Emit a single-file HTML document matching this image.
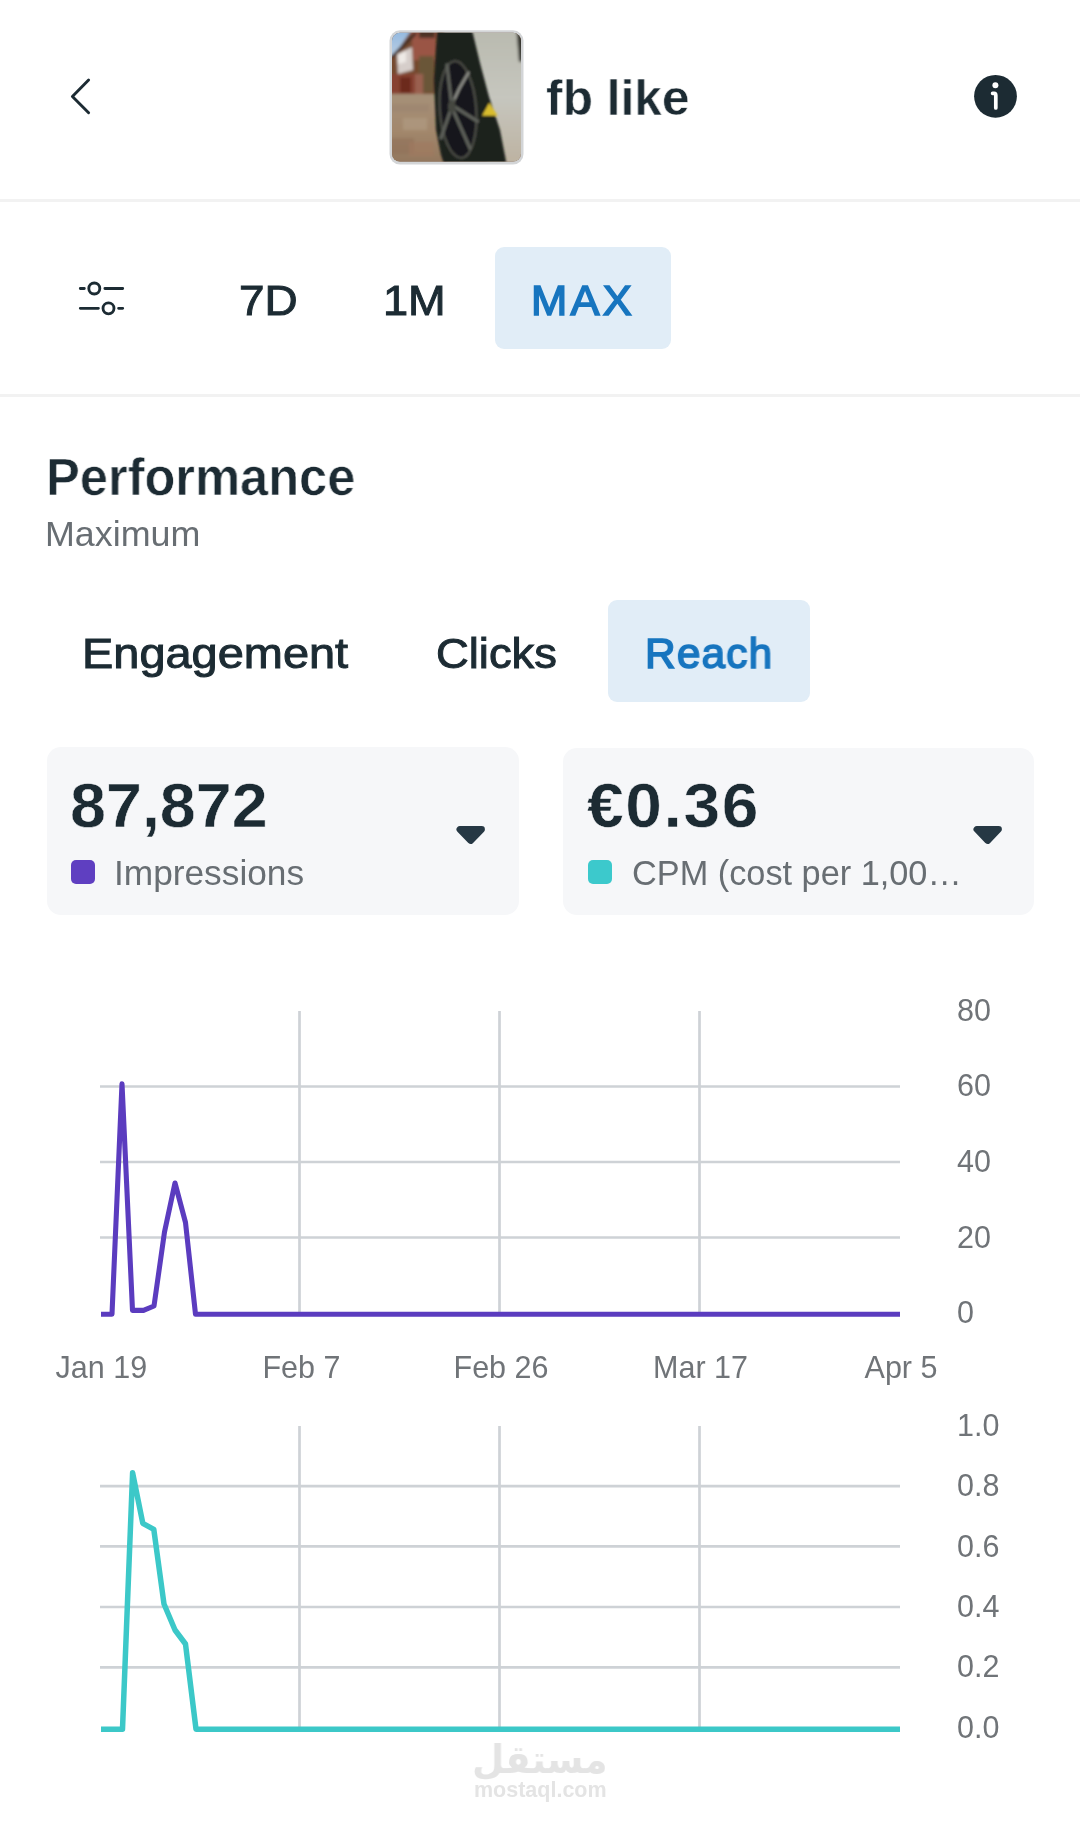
<!DOCTYPE html>
<html><head><meta charset="utf-8">
<style>
html,body{margin:0;padding:0;background:#fff;}
body{width:1080px;height:1840px;position:relative;overflow:hidden;font-family:"Liberation Sans",Arial,sans-serif;color:#1c2b33;}
.t{position:absolute;line-height:1;white-space:nowrap;transform-origin:0 0;will-change:transform;}
.b{font-weight:700;}
.sep{position:absolute;left:0;width:1080px;height:3px;background:#f2f2f2;}
.pill{position:absolute;background:#e1edf7;border-radius:9px;}
.card{position:absolute;background:#f6f7f9;border-radius:14px;}
.sq{position:absolute;width:24px;height:24px;border-radius:5px;}
.gray{color:#686e73;}
.semi{-webkit-text-stroke:1.6px currentColor;}
.med{-webkit-text-stroke:0.6px currentColor;}
.blue{color:#1775bf;}
svg{position:absolute;left:0;top:0;will-change:transform;}
</style></head>
<body>
<!-- header -->
<svg width="1080" height="200" viewBox="0 0 1080 200">
  <path d="M88.6 80 L72.4 96.4 L88.6 112.8" fill="none" stroke="#1c2b33" stroke-width="2.9" stroke-linecap="round" stroke-linejoin="round"/>
  <circle cx="995.5" cy="96.3" r="21.4" fill="#1c2b33"/>
  <circle cx="995.4" cy="85.2" r="3" fill="#fff"/>
  <path d="M992.6 93.3 H994.1 Q995.8 93.3 995.8 95.5 V108" fill="none" stroke="#fff" stroke-width="3.7" stroke-linecap="round" stroke-linejoin="round"/>
</svg>

<!-- thumbnail -->
<svg style="left:389px;top:30px;" width="135" height="135" viewBox="0 0 135 135">
  <defs>
    <clipPath id="clp"><rect x="3" y="2.8" width="129" height="128.8" rx="8"/></clipPath>
    <filter id="bl" x="-10%" y="-10%" width="120%" height="120%"><feGaussianBlur stdDeviation="1.8"/></filter>
    <filter id="bl2" x="-10%" y="-10%" width="120%" height="120%"><feGaussianBlur stdDeviation="1.1"/></filter>
    <linearGradient id="gnd" x1="0" y1="0" x2="0" y2="1">
      <stop offset="0" stop-color="#a59078"/><stop offset="0.45" stop-color="#a3886d"/><stop offset="1" stop-color="#8f735a"/>
    </linearGradient>
    <linearGradient id="car" x1="0" y1="0" x2="0" y2="1">
      <stop offset="0" stop-color="#b8b9ae"/><stop offset="0.5" stop-color="#c6c6be"/><stop offset="1" stop-color="#bcb09e"/>
    </linearGradient>
    <linearGradient id="sky" x1="0" y1="0" x2="0" y2="1">
      <stop offset="0" stop-color="#8ab4e0"/><stop offset="1" stop-color="#bccfe2"/>
    </linearGradient>
  </defs>
  <rect x="0.5" y="0.3" width="134" height="134.2" rx="10.5" fill="#d3d5d7"/>
  <g clip-path="url(#clp)">
    <rect x="0" y="0" width="135" height="135" fill="#7a5a45"/>
    <g filter="url(#bl)">
      <rect x="-5" y="-5" width="60" height="75" fill="#74482f"/>
      <path d="M-5 -5 H26 L6 24 L-5 28 Z" fill="url(#sky)"/>
      <path d="M22 -5 H47 V30 H24 Z" fill="#9a5444"/>
      <path d="M30 -5 H46 V8 H30 Z" fill="#4e3028"/>
      <path d="M30 26 H45 V62 H30 Z" fill="#6a5638"/>
      <path d="M8 24 L23 17 L24 40 L9 44 Z" fill="#d6ceca"/><path d="M9 25 L17 21 L17 32 L9 34 Z" fill="#eeeae6"/>
      <path d="M-5 44 H32 V64 H-5 Z" fill="#874230"/>
      <path d="M11 47 H22 V63 H11 Z" fill="#6c2a1a"/>
      <path d="M26 44 H34 V64 H26 Z" fill="#9a6050"/>
      <path d="M3 27 L27 3" stroke="#3e2c24" stroke-width="3" fill="none"/>
      <rect x="-5" y="64" width="62" height="76" fill="url(#gnd)"/>
      <rect x="14" y="88" width="24" height="12" fill="#b39c84" opacity="0.6"/>
      <rect x="-5" y="108" width="30" height="16" fill="#8e6e55" opacity="0.5"/><rect x="20" y="112" width="25" height="14" fill="#a27a60" opacity="0.6"/><rect x="0" y="74" width="40" height="8" fill="#9c8470" opacity="0.6"/>
      <path d="M75 -5 H140 V140 H100 Z" fill="url(#car)"/>
      <path d="M127 -5 H140 V32 H130 Z" fill="#34342f"/>
    </g>
    <g filter="url(#bl2)">
      <path d="M49 -5 L81 -5 L84 4 L91 33 L100 66.7 L111 100 L116.8 130 L118 140 L57 140 L52 125 L47 100 L45 50 L47 20 Z" fill="#1f211d"/>
      <ellipse cx="69" cy="79.5" rx="18.2" ry="48.5" transform="rotate(-4 69 79.5)" fill="#19191a" stroke="#464843" stroke-width="2.4"/>
      <path d="M79.3 42.5 L70.2 58.3 L62.7 75 M62.7 75 L88.5 91.2 M64 80 L81 118.3 M62.7 75 L58 35 M62.7 77 L52 108" stroke="#5c5e59" stroke-width="3.4" fill="none" stroke-linecap="round"/>
      <path d="M79.5 43 L70.5 58.5 L66 68" stroke="#8c8c87" stroke-width="2" fill="none" stroke-linecap="round"/>
      <ellipse cx="62.7" cy="76.5" rx="3.8" ry="6.5" fill="#444641"/>
      <path d="M100.2 72.8 L93 85.8 H108.8 Z" fill="#d8bc2e"/>
    </g>
  </g>
</svg>
<div class="t b" style="left:546.01px;top:73.27px;font-size:50px;-webkit-text-stroke:0.5px #fff;transform:scaleX(0.993);">fb like</div>
<div class="sep" style="top:199px;"></div>

<!-- range row -->
<svg width="1080" height="400" viewBox="0 0 1080 400">
  <g fill="none" stroke="#1c2b33" stroke-width="2.85" stroke-linecap="round">
    <path d="M80.3 288.5 H84.3 M104.9 288.5 H122.7 M80.3 308.3 H98.4 M118.6 308.3 H122.7"/>
    <circle cx="94.3" cy="288.5" r="5.5"/>
    <circle cx="108.5" cy="308.3" r="5.5"/>
  </g>
</svg>
<div class="t" style="left:238.88px;top:278.85px;font-size:43.3px;-webkit-text-stroke:1.0px currentColor;transform:scaleX(1.060);">7D</div>
<div class="t" style="left:382.57px;top:278.75px;font-size:43.3px;-webkit-text-stroke:1.0px currentColor;transform:scaleX(1.043);">1M</div>
<div class="pill" style="left:495.3px;top:247px;width:175.5px;height:101.7px;"></div>
<div class="t blue" style="left:531.36px;top:279.20px;font-size:43px;letter-spacing:3.2px;-webkit-text-stroke:1.6px currentColor;transform:scaleX(1.012);">MAX</div>
<div class="sep" style="top:394px;"></div>

<!-- performance -->
<div class="t b" style="left:45.92px;top:451.53px;font-size:51px;-webkit-text-stroke:0.6px #fff;transform:scaleX(0.992);">Performance</div>
<div class="t gray" style="left:44.76px;top:516.87px;font-size:34.3px;transform:scaleX(1.045);">Maximum</div>

<div class="t" style="left:82.05px;top:631.85px;font-size:43.3px;-webkit-text-stroke:1.0px currentColor;transform:scaleX(1.084);">Engagement</div>
<div class="t" style="left:436.11px;top:631.85px;font-size:43.3px;-webkit-text-stroke:1.0px currentColor;transform:scaleX(1.047);">Clicks</div>
<div class="pill" style="left:608px;top:600px;width:202px;height:102px;"></div>
<div class="t blue" style="left:645.11px;top:633.02px;font-size:42.5px;letter-spacing:1.2px;-webkit-text-stroke:1.6px currentColor;transform:scaleX(0.996);">Reach</div>

<!-- cards -->
<div class="card" style="left:46.5px;top:747px;width:472px;height:168px;"></div>
<div class="card" style="left:563px;top:747.5px;width:471px;height:167.5px;"></div>
<div class="t b" style="left:70.43px;top:774.39px;font-size:62.5px;-webkit-text-stroke:0.5px #f6f7f9;transform:scaleX(1.034);">87,872</div>
<div class="t b" style="left:586.90px;top:774.49px;font-size:62.5px;letter-spacing:1.5px;-webkit-text-stroke:0.5px #f6f7f9;transform:scaleX(1.055);">€0.36</div>
<div class="sq" style="left:71px;top:860px;background:#5f3fc1;"></div>
<div class="sq" style="left:588px;top:859.5px;background:#3cc9cc;"></div>
<div class="t gray" style="left:113.92px;top:855.57px;font-size:34.3px;transform:scaleX(1.028);">Impressions</div>
<div class="t gray" style="left:631.50px;top:855.57px;font-size:34.3px;">CPM (cost per 1,00…</div>
<svg width="1080" height="900" viewBox="0 0 1080 900">
  <path d="M459.8 829.4 H481.6 L470.7 840.6 Z" fill="#263844" stroke="#263844" stroke-width="6.6" stroke-linejoin="round"/>
  <path d="M976.8 829.3 H998.6 L987.7 840.6 Z" fill="#263844" stroke="#263844" stroke-width="6.6" stroke-linejoin="round"/>
</svg>

<!-- charts -->
<svg width="1080" height="1840" viewBox="0 0 1080 1840">
  <g stroke="#ced2d6" stroke-width="2.7" fill="none">
    <path d="M299.5 1011 V1313 M499.5 1011 V1313 M699.5 1011 V1313"/>
    <path d="M100 1086.5 H900 M100 1162 H900 M100 1237.5 H900"/>
    <path d="M299.5 1426 V1728 M499.5 1426 V1728 M699.5 1426 V1728"/>
    <path d="M100 1486.1 H900 M100 1546.4 H900 M100 1607 H900 M100 1667.3 H900"/>
  </g>
  <polyline fill="none" stroke="#5b3cbf" stroke-width="5.1" stroke-linejoin="round"
    points="101,1314.2 112,1314.2 122,1083.8 132.5,1310.4 143.5,1310.4 154,1306 164.5,1232 175,1183 185.5,1222.5 195.5,1314.2 900,1314.2"/>
  <polyline fill="none" stroke="#3cc8c8" stroke-width="5.5" stroke-linejoin="round"
    points="101,1729.2 122.5,1729.2 132.6,1472.8 142.8,1523.3 153.8,1529.3 164,1604 175,1630 185.5,1644 196,1729.2 900,1729.2"/>
  <g font-family="Liberation Sans, Arial, sans-serif" font-size="30.5" fill="#707478">
    <text x="957" y="1020.8">80</text>
    <text x="957" y="1096.4">60</text>
    <text x="957" y="1172">40</text>
    <text x="957" y="1247.6">20</text>
    <text x="957" y="1323.2">0</text>
    <g text-anchor="middle">
      <text x="101.4" y="1377.5">Jan 19</text>
      <text x="301.4" y="1377.5">Feb 7</text>
      <text x="501" y="1377.5">Feb 26</text>
      <text x="700.5" y="1377.5">Mar 17</text>
      <text x="901" y="1377.5">Apr 5</text>
    </g>
    <text x="957" y="1435.8">1.0</text>
    <text x="957" y="1496.2">0.8</text>
    <text x="957" y="1556.6">0.6</text>
    <text x="957" y="1617">0.4</text>
    <text x="957" y="1677.4">0.2</text>
    <text x="957" y="1737.8">0.0</text>
  </g>
</svg>
<!-- watermark -->
<div class="t b" style="left:471.9px;top:1740.3px;font-family:'DejaVu Sans',sans-serif;font-size:39px;color:#e4e4e4;transform:scaleX(0.95);transform-origin:0 0;">مستقل</div>
<div class="t b" style="left:474.1px;top:1779.8px;font-size:21.5px;color:#e4e4e4;">mostaql.com</div>
</body></html>
